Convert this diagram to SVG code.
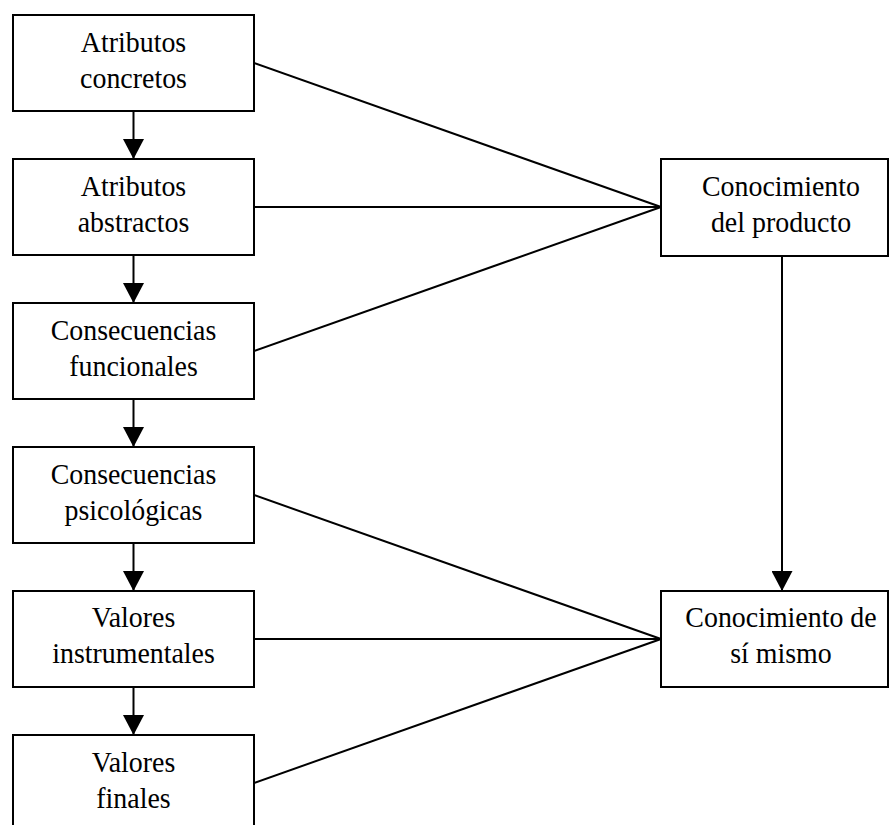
<svg xmlns="http://www.w3.org/2000/svg" width="889" height="825" viewBox="0 0 889 825">
  <style>
    .box { fill: #ffffff; stroke: #000000; stroke-width: 2; }
    .lbl { font-family: "Liberation Serif", "Times New Roman", serif; font-size: 30px; fill: #000000; text-anchor: middle; }
    .edge { stroke: #000000; stroke-width: 2; fill: none; }
    .arrow { marker-end: url(#head); }
  </style>
  <defs>
    <marker id="head" markerUnits="userSpaceOnUse" markerWidth="22" markerHeight="21" refX="20" refY="10.5" orient="auto">
      <path d="M0,0 L20,10.5 L0,21 Z" fill="#000000"/>
    </marker>
  </defs>

  <!-- connectors -->
  <g id="connectors">
    <line class="edge arrow" x1="133.5" y1="111" x2="133.5" y2="159"/>
    <line class="edge arrow" x1="133.5" y1="255" x2="133.5" y2="303"/>
    <line class="edge arrow" x1="133.5" y1="399" x2="133.5" y2="447"/>
    <line class="edge arrow" x1="133.5" y1="543" x2="133.5" y2="591"/>
    <line class="edge arrow" x1="133.5" y1="687" x2="133.5" y2="735"/>
    <line class="edge arrow" x1="782" y1="256" x2="782" y2="591"/>

    <line class="edge" x1="254" y1="63" x2="661" y2="207"/>
    <line class="edge" x1="254" y1="207" x2="661" y2="207"/>
    <line class="edge" x1="254" y1="351" x2="661" y2="207"/>

    <line class="edge" x1="254" y1="495" x2="661" y2="639"/>
    <line class="edge" x1="254" y1="639" x2="661" y2="639"/>
    <line class="edge" x1="254" y1="783" x2="661" y2="639"/>
  </g>

  <!-- left column -->
  <g id="atributos-concretos">
    <rect class="box" x="13" y="15" width="241" height="96"/>
    <text class="lbl" transform="translate(133.5 0) scale(0.93 1)"><tspan x="0" y="52">Atributos</tspan><tspan x="0" y="88">concretos</tspan></text>
  </g>
  <g id="atributos-abstractos">
    <rect class="box" x="13" y="159" width="241" height="96"/>
    <text class="lbl" transform="translate(133.5 0) scale(0.93 1)"><tspan x="0" y="196">Atributos</tspan><tspan x="0" y="232">abstractos</tspan></text>
  </g>
  <g id="consecuencias-funcionales">
    <rect class="box" x="13" y="303" width="241" height="96"/>
    <text class="lbl" transform="translate(133.5 0) scale(0.93 1)"><tspan x="0" y="340">Consecuencias</tspan><tspan x="0" y="376">funcionales</tspan></text>
  </g>
  <g id="consecuencias-psicologicas">
    <rect class="box" x="13" y="447" width="241" height="96"/>
    <text class="lbl" transform="translate(133.5 0) scale(0.93 1)"><tspan x="0" y="484">Consecuencias</tspan><tspan x="0" y="520">psicológicas</tspan></text>
  </g>
  <g id="valores-instrumentales">
    <rect class="box" x="13" y="591" width="241" height="96"/>
    <text class="lbl" transform="translate(133.5 0) scale(0.93 1)"><tspan x="0" y="627">Valores</tspan><tspan x="0" y="663">instrumentales</tspan></text>
  </g>
  <g id="valores-finales">
    <rect class="box" x="13" y="735" width="241" height="96"/>
    <text class="lbl" transform="translate(133.5 0) scale(0.93 1)"><tspan x="0" y="772">Valores</tspan><tspan x="0" y="808">finales</tspan></text>
  </g>

  <!-- right column -->
  <g id="conocimiento-producto">
    <rect class="box" x="661" y="159" width="227" height="97"/>
    <text class="lbl" transform="translate(781 0) scale(0.93 1)"><tspan x="0" y="196">Conocimiento</tspan><tspan x="0" y="232">del producto</tspan></text>
  </g>
  <g id="conocimiento-si-mismo">
    <rect class="box" x="661" y="591" width="227" height="96"/>
    <text class="lbl" transform="translate(781 0) scale(0.93 1)"><tspan x="0" y="627">Conocimiento de</tspan><tspan x="0" y="663">sí mismo</tspan></text>
  </g>
</svg>
